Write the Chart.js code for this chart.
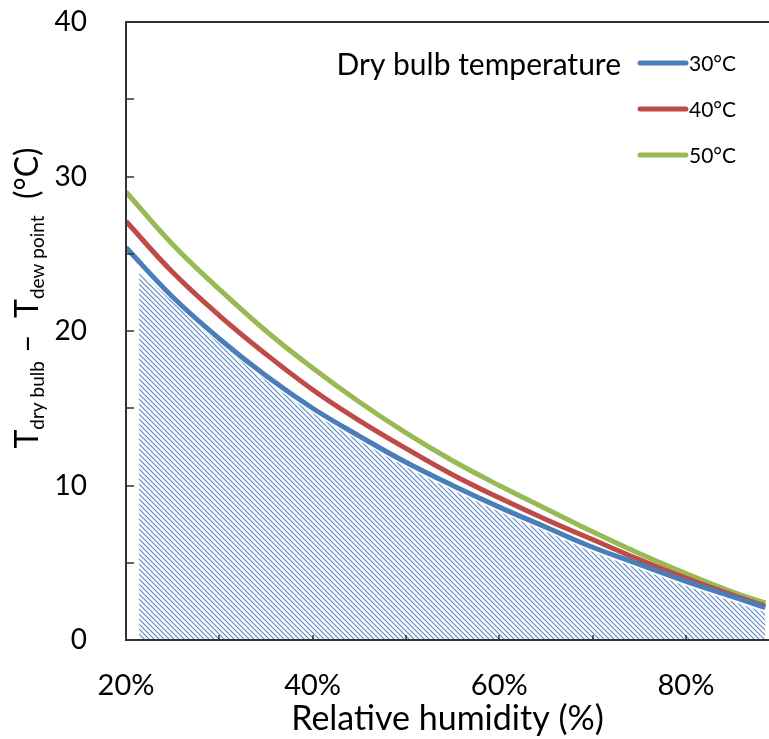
<!DOCTYPE html>
<html>
<head>
<meta charset="utf-8">
<script src="https://cdn.jsdelivr.net/npm/chart.js@4.4.1/dist/chart.umd.min.js"></script>
<style>
  body { margin: 0; background: #fff; }
</style>
</head>
<body>
<canvas id="myChart" width="769" height="739"></canvas>
<script>
// relative humidity (%) and T_dry - T_dew (°C)
const rh = [20, 25, 30, 35, 40, 45, 50, 55, 60, 65, 70, 75, 80, 85, 88.5];
const dry30 = [25.4, 22.2, 19.5, 17.1, 15.0, 13.2, 11.5, 10.0, 8.6, 7.3, 6.0, 4.9, 3.8, 2.8, 2.1];
const dry40 = [27.1, 23.8, 21.0, 18.5, 16.2, 14.2, 12.4, 10.7, 9.2, 7.8, 6.5, 5.2, 4.0, 2.9, 2.2];
const dry50 = [29.0, 25.6, 22.7, 20.0, 17.6, 15.4, 13.4, 11.6, 10.0, 8.5, 7.0, 5.6, 4.3, 3.1, 2.4];
const hatchRH = [21.4, 25, 30, 35, 40, 45, 50, 55, 60, 65, 70, 75, 80, 85, 88.5];
const hatchTop = [23.9, 21.9, 19.2, 16.8, 14.7, 12.9, 11.2, 9.7, 8.3, 7.0, 5.7, 4.6, 3.5, 2.5, 1.8];
const seriesLabels = ['30°C', '40°C', '50°C'];
const seriesColors = ['#4a7ebb', '#be4b48', '#98b954'];
const xTicks = [20, 40, 60, 80];
const yTicks = [0, 10, 20, 30, 40];

const FONT = "Lato, 'Open Sans', sans-serif";

function hatchPattern() {
  const c = document.createElement('canvas');
  c.width = 5; c.height = 5;
  const g = c.getContext('2d');
  g.strokeStyle = '#5b87c5';
  g.lineWidth = 1.1;
  g.beginPath();
  g.moveTo(-1, -1); g.lineTo(6, 6);
  g.moveTo(-6, -1); g.lineTo(1, 6);
  g.moveTo(4, -1); g.lineTo(11, 6);
  g.stroke();
  return document.getElementById('myChart').getContext('2d').createPattern(c, 'repeat');
}

function pts(xs, ys) {
  return xs.map((x, i) => ({ x: x, y: ys[i] }));
}

const frame = {
  id: 'frame',
  afterDraw(chart) {
    const ctx = chart.ctx;
    const a = chart.chartArea;
    const xs = chart.scales.x, ys = chart.scales.y;
    ctx.save();
    ctx.strokeStyle = '#333';
    ctx.lineWidth = 2;
    ctx.beginPath();
    ctx.moveTo(chart.width, a.top); ctx.lineTo(a.left, a.top);
    ctx.lineTo(a.left, a.bottom); ctx.lineTo(chart.width, a.bottom);
    ctx.stroke();
    // inward tick marks
    ctx.lineWidth = 1.5;
    ctx.beginPath();
    xs.ticks.forEach(t => {
      const px = Math.round(xs.getPixelForValue(t.value));
      if (px <= a.left + 1) return;
      ctx.moveTo(px, a.bottom); ctx.lineTo(px, a.bottom - 5);
    });
    ys.ticks.forEach(t => {
      const py = Math.round(ys.getPixelForValue(t.value));
      if (py >= a.bottom - 1 || py <= a.top + 1) return;
      ctx.moveTo(a.left, py); ctx.lineTo(a.left + 8, py);
    });
    ctx.stroke();

    // y title with subscripts
    const big = '32px ' + FONT, small = '19px ' + FONT;
    const parts = [['T', big, 0], ['dry bulb', small, 6], [' \u2013  T', big, 0], ['dew point', small, 6], ['  (°C)', big, 0]];
    let total = 0;
    parts.forEach(p => { ctx.font = p[1]; total += ctx.measureText(p[0]).width; });
    ctx.translate(38, 298);
    ctx.rotate(-Math.PI / 2);
    ctx.fillStyle = '#000';
    ctx.textBaseline = 'alphabetic';
    let cx = -total / 2;
    parts.forEach(p => {
      ctx.font = p[1];
      ctx.fillText(p[0], cx, p[2]);
      cx += ctx.measureText(p[0]).width;
    });
    ctx.restore();

    // legend
    ctx.save();
    ctx.fillStyle = '#000';
    ctx.textBaseline = 'middle';
    ctx.font = '30px ' + FONT;
    ctx.textAlign = 'right';
    ctx.fillText('Dry bulb temperature', 621, 65);
    ctx.textAlign = 'left';
    ctx.font = '21px ' + FONT;
    seriesLabels.forEach((lab, i) => {
      const y = 63 + i * 46;
      ctx.strokeStyle = seriesColors[i];
      ctx.lineWidth = 5;
      ctx.lineCap = 'round';
      ctx.beginPath();
      ctx.moveTo(640, y); ctx.lineTo(686, y);
      ctx.stroke();
      ctx.fillText(lab, 689, y + 1);
    });
    ctx.restore();
  }
};

const poke = document.getElementById('myChart');

new Chart(poke, {
  type: 'line',
  data: {
    datasets: [
      { label: seriesLabels[0], data: pts(rh, dry30), borderColor: seriesColors[0], borderWidth: 5, pointRadius: 0, tension: 0.4, fill: false },
      { label: seriesLabels[1], data: pts(rh, dry40), borderColor: seriesColors[1], borderWidth: 5, pointRadius: 0, tension: 0.4, fill: false },
      { label: seriesLabels[2], data: pts(rh, dry50), borderColor: seriesColors[2], borderWidth: 5, pointRadius: 0, tension: 0.4, fill: false },
      { label: 'area', data: pts(hatchRH, hatchTop), borderWidth: 0, borderColor: 'rgba(0,0,0,0)', backgroundColor: hatchPattern(), pointRadius: 0, tension: 0.4, fill: 'origin' }
    ]
  },
  options: {
    responsive: false,
    animation: false,
    layout: { padding: { top: 22, right: 0, left: 0, bottom: 0 } },
    plugins: { legend: { display: false }, tooltip: { enabled: false } },
    scales: {
      x: {
        type: 'linear',
        min: 20,
        max: 88.9,
        afterFit(s) { s.height = 99; s.paddingLeft = 0; s.paddingRight = 0; },
        afterBuildTicks(s) { s.ticks = [20, 30, 40, 50, 60, 70, 80].map(v => ({ value: v })); },
        grid: { display: false },
        border: { display: false },
        ticks: {
          padding: 20,
          color: '#000',
          font: { family: FONT, size: 29 },
          maxRotation: 0,
          callback: v => xTicks.includes(v) ? v + '%' : ''
        },
        title: {
          display: true,
          text: 'Relative humidity (%)',
          color: '#000',
          font: { family: FONT, size: 34 },
          padding: { top: 0, bottom: 0 }
        }
      },
      y: {
        min: 0,
        max: 40,
        afterFit(s) { s.width = 126; s.paddingTop = 0; s.paddingBottom = 0; },
        grid: { display: false },
        border: { display: false },
        ticks: {
          stepSize: 5,
          padding: 31,
          color: '#000',
          font: { family: FONT, size: 28 },
          callback: v => yTicks.includes(v) ? String(v) : ''
        }
      }
    }
  },
  plugins: [frame]
});
</script>
</body>
</html>
